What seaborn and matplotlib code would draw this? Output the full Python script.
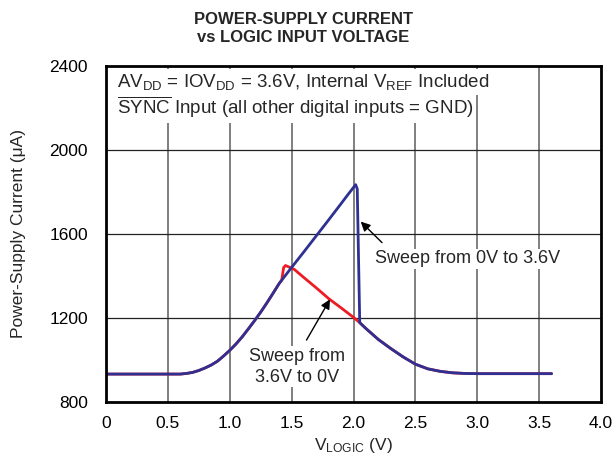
import numpy as np
import pandas as pd
import matplotlib
matplotlib.use("Agg")
import matplotlib.pyplot as plt
import seaborn as sns

# Style
sns.set_theme(style="white")
plt.rcParams['font.family'] = ['Liberation Sans', 'DejaVu Sans']
plt.rcParams['mathtext.fontset'] = 'custom'
plt.rcParams['mathtext.rm'] = 'Liberation Sans'
plt.rcParams['mathtext.it'] = 'Liberation Sans:italic'
plt.rcParams['mathtext.bf'] = 'Liberation Sans:bold'

# Data (V_LOGIC in V, current in uA)
# shared rising part (both sweeps)
v_rise = [0.0, 0.5, 0.6, 0.65, 0.7, 0.75, 0.8, 0.85, 0.9, 0.95, 1.0, 1.05,
          1.1, 1.15, 1.2, 1.25, 1.3, 1.35, 1.4]
i_rise = [933, 933, 933, 936, 941, 950, 962, 976, 994, 1019, 1046, 1076,
          1110, 1148, 1187, 1228, 1272, 1318, 1365]

# sweep 0V -> 3.6V: keeps rising then drops at ~2.05V
v_up = [1.45, 1.5, 1.6, 1.7, 1.8, 1.9, 1.95, 2.0, 2.017, 2.03, 2.05]
i_up = [1403, 1441, 1516, 1592, 1668, 1745, 1784, 1822, 1835, 1815, 1178]

# sweep 3.6V -> 0V: small bump at ~1.45V then falls
v_down = [1.42, 1.435, 1.45, 1.47, 1.52, 1.6, 1.7, 1.8, 1.9, 2.0, 2.05]
i_down = [1380, 1440, 1450, 1445, 1432, 1392, 1343, 1292, 1248, 1203, 1178]

# shared falling part (both sweeps)
v_fall = [2.1, 2.2, 2.3, 2.4, 2.5, 2.6, 2.7, 2.8, 2.9, 3.0, 3.6]
i_fall = [1150, 1098, 1055, 1015, 980, 958, 946, 939, 936, 935, 935]

sweep_labels = ['3.6V to 0V', '0V to 3.6V']
sweep_colors = ['#ed1c24', '#2e3192']

df = pd.concat([
    pd.DataFrame({'v': v_rise + v_down + v_fall,
                  'i': i_rise + i_down + i_fall,
                  'sweep': sweep_labels[0]}),
    pd.DataFrame({'v': v_rise + v_up + v_fall,
                  'i': i_rise + i_up + i_fall,
                  'sweep': sweep_labels[1]}),
], ignore_index=True)

fig, ax = plt.subplots(figsize=(6.14, 4.68), dpi=100)
fig.subplots_adjust(left=0.1726, right=0.979, top=0.859, bottom=0.141)

sns.lineplot(data=df, x='v', y='i', hue='sweep', palette=sweep_colors,
             hue_order=sweep_labels, sort=False, estimator=None,
             linewidth=2.0, legend=False, ax=ax, zorder=3)

ax.set_xlim(0, 4.0)
ax.set_ylim(800, 2400)
ax.set_xticks(np.arange(0, 4.01, 0.5))
ax.set_xticklabels(['0', '0.5', '1.0', '1.5', '2.0', '2.5', '3.0', '3.5', '4.0'])
ax.set_yticks(np.arange(800, 2401, 400))
ax.tick_params(axis='both', length=0, labelsize=12.5, colors='black')
ax.tick_params(axis='x', pad=10)
ax.tick_params(axis='y', pad=13)

# grid: gray verticals, black horizontals
for xv in np.arange(0.5, 4.0, 0.5):
    ax.axvline(xv, color='#7f7f7f', lw=1.4, zorder=1)
for yv in [1200, 1600, 2000]:
    ax.axhline(yv, color='#222222', lw=0.9, zorder=1)

for s in ax.spines.values():
    s.set_color('black')
    s.set_linewidth(2.0)
    s.set_zorder(5)

ax.set_xlabel(r'V$_{\rm LOGIC}$ (V)', fontsize=12.5, labelpad=4)
ax.set_ylabel('Power-Supply Current (μA)', fontsize=12.5, labelpad=17)
ax.set_title('POWER-SUPPLY CURRENT\nvs LOGIC INPUT VOLTAGE', fontsize=12,
             fontweight='bold', pad=17, linespacing=1.3, x=0.398)

# conditions text with white background
box = dict(facecolor='white', edgecolor='none', pad=2)
ax.text(0.022, 0.952, r'AV$_{\rm DD}$ = IOV$_{\rm DD}$ = 3.6V, Internal V$_{\rm REF}$ Included',
        transform=ax.transAxes, fontsize=13.5, va='center', ha='left', bbox=box, zorder=4)
ax.text(0.022, 0.878, r'$\overline{\rm SYNC}$ Input (all other digital inputs = GND)',
        transform=ax.transAxes, fontsize=13.5, va='center', ha='left', bbox=box, zorder=4)

# annotations
arrow = dict(arrowstyle='-|>', color='black', lw=1.0, mutation_scale=14,
             shrinkA=0, shrinkB=0)
ax.annotate('', xy=(2.058, 1659), xytext=(2.23, 1559), arrowprops=arrow, zorder=4)
ax.text(2.175, 1482, 'Sweep from 0V to 3.6V', fontsize=13, ha='left', va='center',
        bbox=dict(facecolor='white', edgecolor='none', pad=1), zorder=4)

ax.annotate('', xy=(1.81, 1289), xytext=(1.62, 1095), arrowprops=arrow, zorder=4)
ax.text(1.54, 968, 'Sweep from\n3.6V to 0V', fontsize=13, ha='center', va='center',
        linespacing=1.3, bbox=dict(facecolor='white', edgecolor='none', pad=1), zorder=4)

plt.savefig('out.png', dpi=100)
plt.close()
